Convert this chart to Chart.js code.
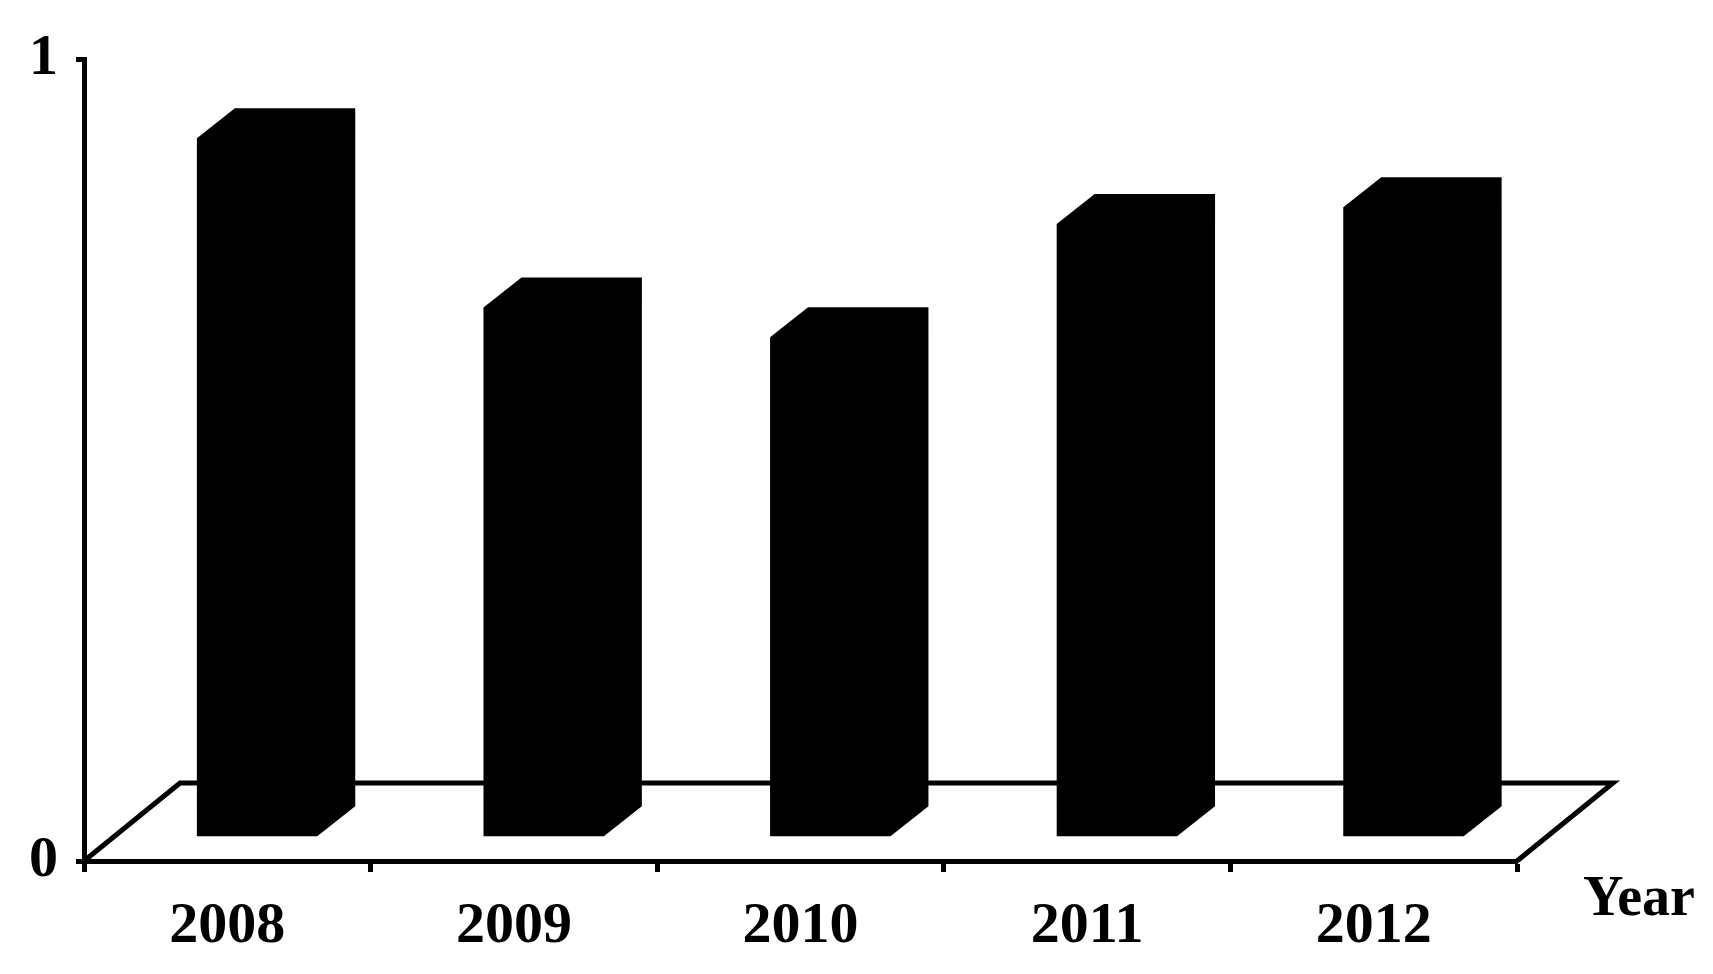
<!DOCTYPE html>
<html>
<head>
<meta charset="utf-8">
<script src="https://cdn.jsdelivr.net/npm/chart.js@4"></script>
<style>
  html, body { margin: 0; padding: 0; background: #fff; }
  canvas { display: block; }
</style>
</head>
<body>
<canvas id="yearChart" width="1713" height="974"></canvas>
<script>
// Years along the x axis
const years = ['2008', '2009', '2010', '2011', '2012'];
// Bar values (axis runs from 0 to 1)
const values = [0.871, 0.660, 0.623, 0.764, 0.785];
const yMin = 0;
const yMax = 1;
const xTitle = 'Year';

const fontFamily = "'Times New Roman', 'Liberation Serif', serif";
const labelFont = { family: fontFamily, size: 58, weight: 'bold' };

// Draws the floor outline and the bars as 3D blocks, using the bar elements' positions
const pseudo3d = {
  id: 'pseudo3d',
  afterDatasetsDraw(chart) {
    const ctx = chart.ctx;
    const area = chart.chartArea;
    const floorDx = 96, floorDy = -78; // depth of the floor
    const frontAt = 0.31;              // bar front face, as a fraction of the floor depth
    const sideDx = 38, sideDy = -30;   // bar side / top faces

    ctx.save();
    // floor outline (its front edge is the x axis itself)
    ctx.strokeStyle = '#000';
    ctx.lineWidth = 5;
    ctx.beginPath();
    ctx.moveTo(area.left, area.bottom);
    ctx.lineTo(area.left + floorDx, area.bottom + floorDy);
    ctx.lineTo(area.right + floorDx, area.bottom + floorDy);
    ctx.lineTo(area.right, area.bottom);
    ctx.stroke();

    // bars
    const ox = floorDx * frontAt, oy = floorDy * frontAt;
    ctx.fillStyle = '#000';
    chart.getDatasetMeta(0).data.forEach(bar => {
      const p = bar.getProps(['x', 'y', 'base', 'width'], true);
      const L = p.x - p.width / 2 + ox;
      const R = p.x + p.width / 2 + ox;
      const T = p.y + oy;
      const B = p.base + oy;
      ctx.beginPath();
      ctx.moveTo(L, B);
      ctx.lineTo(L, T);
      ctx.lineTo(L + sideDx, T + sideDy);
      ctx.lineTo(R + sideDx, T + sideDy);
      ctx.lineTo(R + sideDx, B + sideDy);
      ctx.lineTo(R, B);
      ctx.closePath();
      ctx.fill();
    });

    // axis title at the right end of the x axis
    ctx.font = 'bold 56px ' + fontFamily;
    ctx.textAlign = 'left';
    ctx.textBaseline = 'alphabetic';
    ctx.fillText(xTitle, area.right + 66, area.bottom + 54);
    ctx.restore();
  }
};

new Chart(document.getElementById('yearChart'), {
  type: 'bar',
  data: {
    labels: years,
    datasets: [{
      data: values,
      backgroundColor: 'rgba(0,0,0,0)', // drawn by the plugin instead
      borderWidth: 0,
      barPercentage: 0.42,
      categoryPercentage: 1
    }]
  },
  options: {
    responsive: false,
    animation: false,
    devicePixelRatio: 1,
    layout: { padding: { left: 0, top: 59, right: 196, bottom: 0 } },
    plugins: {
      legend: { display: false },
      tooltip: { enabled: false }
    },
    scales: {
      x: {
        offset: true,
        grid: { offset: true, drawOnChartArea: false, tickLength: 11, tickWidth: 5, tickColor: '#000' },
        border: { color: '#000', width: 5 },
        ticks: { color: '#000', font: labelFont, padding: 20, maxRotation: 0 },
        afterFit: s => { s.height = 113; }
      },
      y: {
        min: yMin,
        max: yMax,
        grid: { drawOnChartArea: false, tickLength: 8, tickWidth: 5, tickColor: '#000' },
        border: { color: '#000', width: 5 },
        ticks: { color: '#000', font: labelFont, padding: 18, stepSize: 1 },
        afterFit: s => { s.width = 84; }
      }
    }
  },
  plugins: [pseudo3d]
});
</script>
</body>
</html>
